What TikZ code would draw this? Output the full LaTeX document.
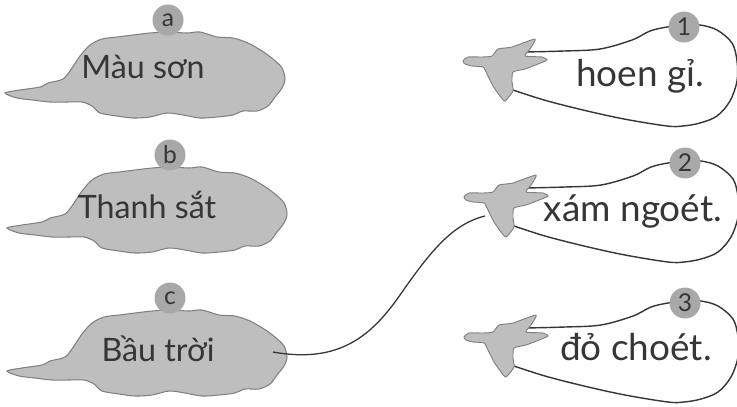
\documentclass[tikz,border=0pt]{standalone}
\usepackage{fontspec}
\setmainfont{Lato}
\usepackage{xcolor}

\definecolor{shapegray}{HTML}{BEBEBE}
\definecolor{edgegray}{HTML}{808080}
\definecolor{taggray}{HTML}{A8A8A8}
\definecolor{inkgray}{HTML}{363636}

\tikzset{
  word/.style={text=inkgray, inner sep=0pt, anchor=base, font=\fontsize{27.5}{30}\selectfont},
  answer/.style={word, font=\fontsize{31.5}{34}\selectfont},
  tag/.style={circle, fill=taggray, inner sep=0pt, minimum size=0.93cm, text=inkgray, font=\fontsize{21}{22}\selectfont},
  link/.style={draw=inkgray, line width=1.1pt},
  cloud/.pic={
    \path[draw=edgegray, fill=shapegray, line width=0.9pt]
      plot[smooth cycle, tension=0.5] coordinates {(-163,68) (-148,65) (-128,62) (-120,58) (-105,54)
        (-96,43) (-88,31) (-78,20) (-66,14) (-51,12) (-35,10) (-18,8) (0,7) (19,8) (32,7)
        (49,12) (65,13) (80,18) (94,26) (105,34) (114,43) (117,54) (114,63) (107,72)
        (100,81) (89,86) (75,86) (65,90) (49,92) (32,93) (15,90) (-1,88) (-18,92)
        (-35,93) (-51,91) (-68,88) (-76,81) (-86,77) (-101,77) (-118,77) (-135,75) (-151,73)};
  },
  balloon/.pic={
    \path[draw=inkgray, fill=white, line width=1.2pt]
      plot[smooth, tension=0.55] coordinates {(-160,25) (-120,24) (-84,22) (-52,13) (-34,4) (-17,0) (0,-2)
        (16,-2) (33,3) (48,16) (53,34) (53,54) (46,74) (33,89) (16,96) (-1,99) (-17,99)
        (-60,92) (-101,83) (-140,73) (-171,63)};
    % bird
    \path[draw=edgegray, fill=shapegray, line width=0.8pt]
      plot[smooth cycle, tension=0.35] coordinates {(-221,34) (-216,30) (-202,30) (-192,29) (-186,22)
        (-172,20) (-149,12) (-154,22) (-159,29) (-142,30) (-137,33) (-146,37) (-159,42)
        (-171,45) (-172,55) (-171,64) (-179,74) (-184,69) (-191,59) (-197,47) (-201,40)
        (-212,39) (-219,37)};
  }
}

\begin{document}
\begin{tikzpicture}[x=0.03cm, y=-0.03cm]
  \useasboundingbox (0,0) rectangle (737,406);

  % left column
  \pic at (168,25) {cloud};
  \pic at (170,160) {cloud};
  \pic at (170,303) {cloud};
  \node[tag] (tagA) at (168,20) {a};
  \node[tag] (tagB) at (170,155) {b};
  \node[tag] (tagC) at (170,298) {c};
  \node[word] (wordA) at (143,78) {Màu sơn};
  \node[word] (wordB) at (147,218) {Thanh sắt};
  \node[word] (wordC) at (158,361) {Bầu trời};

  % the answer line
  \coordinate (skyEnd) at (273,352);
  \coordinate (birdTwo) at (485,216);
  \draw[link] (skyEnd) .. controls (340,364) and (372,335) .. (400,295)
    .. controls (430,252) and (452,224) .. (birdTwo);

  % right column
  \pic at (684,27) {balloon};
  \pic at (685,163) {balloon};
  \pic at (685,303) {balloon};
  \node[tag] (tagOne) at (684,27) {1};
  \node[tag] (tagTwo) at (685,163) {2};
  \node[tag] (tagThree) at (685,303) {3};
  \node[answer] (wordOne) at (640,86) {hoen gỉ.};
  \node[answer] (wordTwo) at (633,221) {xám ngoét.};
  \node[answer] (wordThree) at (636,360) {đỏ choét.};
\end{tikzpicture}
\end{document}
